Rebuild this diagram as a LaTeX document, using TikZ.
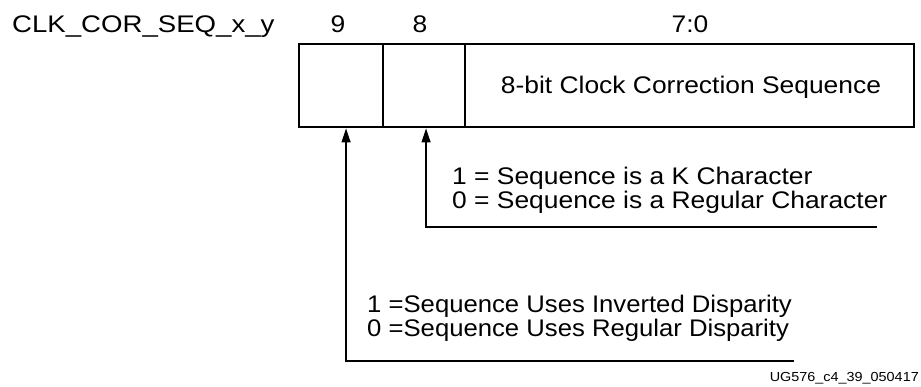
\documentclass[tikz,border=0pt]{standalone}
\usepackage{fontspec}
\setmainfont{Liberation Sans}[FakeStretch=1.1]
\newfontfamily\narrowsans{Liberation Sans}[FakeStretch=1.07]
\newfontfamily\widesans{Liberation Sans}[FakeStretch=1.15]
\usetikzlibrary{arrows.meta}
\begin{document}
\begin{tikzpicture}[x=1pt,y=-1pt,
  lbl/.style={inner sep=0pt, anchor=base west, font=\fontsize{24}{28}\selectfont},
  hdr/.style={inner sep=0pt, anchor=base, font=\fontsize{24}{28}\selectfont},
  cell/.style={draw, line width=2.4pt, minimum height=83pt, inner sep=0pt, anchor=north west},
  arr/.style={line width=1.2pt, -{Triangle[length=14pt,width=9pt]}}]
\useasboundingbox (0,0) rectangle (921,386);
% register cells
\node[cell, minimum width=83.7pt] (c9) at (298,43) {};
\node[cell, minimum width=82.3pt] (c8) at (381.7,43) {};
\node[cell, minimum width=449pt] (c70) at (464,43) {};
\node[hdr] (t70) at (691,93) {8-bit Clock Correction Sequence};
% headers
\node[lbl, font=\fontsize{24}{28}\widesans] (reg) at (12,32) {CLK\_COR\_SEQ\_x\_y};
\node[hdr] (h9) at (338,32) {9};
\node[hdr] (h8) at (420,32) {8};
\node[hdr] (h70) at (690,32) {7:0};
% connectors
\coordinate (e9) at (794,361);
\coordinate (e8) at (877,227);
\draw[arr] (e9) -| ([xshift=5pt]c9.south);
\draw[arr] (e8) -| ([xshift=2pt]c8.south);
% descriptions
\node[lbl] (k1) at (452,184) {1 = Sequence is a K Character};
\node[lbl] (k0) at (452,208) {0 = Sequence is a Regular Character};
\node[lbl, font=\fontsize{24}{28}\narrowsans] (d1) at (367,312) {1 =Sequence Uses Inverted Disparity};
\node[lbl, font=\fontsize{24}{28}\narrowsans] (d0) at (367,336) {0 =Sequence Uses Regular Disparity};
\node[inner sep=0pt, anchor=base east, font=\fontsize{13.1}{15}\selectfont] (fig) at (919,381) {UG576\_c4\_39\_050417};
\end{tikzpicture}
\end{document}
